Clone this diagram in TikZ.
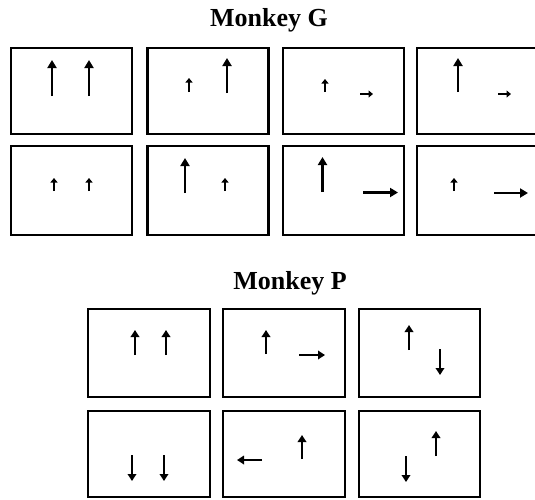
\documentclass[tikz,border=0pt]{standalone}
\usepackage{fontspec}
\setmainfont{Liberation Serif}
\usetikzlibrary{arrows.meta}
\tikzset{
  panel/.style={draw=black,line width=2.3pt,minimum width=121pt,inner sep=0pt},
  title-text/.style={anchor=base,font=\fontsize{26}{30}\selectfont\bfseries},
  % three arrow sizes: long (G), mid (P), short (G)
  arrow-long/.style={-{Triangle[length=8pt,width=9pt]},line width=2.5pt},
  arrow-mid/.style={-{Triangle[length=7pt,width=8.5pt]},line width=2.3pt},
  arrow-short/.style={-{Triangle[length=4.5pt,width=7pt]},line width=2.3pt},
}
\begin{document}
\begin{tikzpicture}[x=1pt,y=-1pt]
  \useasboundingbox (0,0) rectangle (535,499);
  \clip (0,0) rectangle (535,499);

  % Monkey G
  \node[title-text] (titleG) at (269,26.6) {Monkey G};
  \node[panel,minimum height=86pt] (g1) at (71.5,90.8) {};
  \node[panel,minimum height=86pt] (g2) at (208,90.8) {};
  \node[panel,minimum height=86pt] (g3) at (343.5,90.8) {};
  \node[panel,minimum height=86pt] (g4) at (477.5,90.8) {};
  \node[panel,minimum height=89pt] (g5) at (71.5,190.3) {};
  \node[panel,minimum height=89pt] (g6) at (208,190.3) {};
  \node[panel,minimum height=89pt] (g7) at (343.5,190.3) {};
  \node[panel,minimum height=89pt] (g8) at (477.5,190.3) {};

  \draw[arrow-long] (52,96) -- (52,60);
  \draw[arrow-long] (89,96) -- (89,60);
  \draw[arrow-short] (189,92) -- (189,78);
  \draw[arrow-long] (227,93) -- (227,58);
  \draw[arrow-short] (325,92) -- (325,79);
  \draw[arrow-short] (360,94) -- (373,94);
  \draw[arrow-long] (458,92) -- (458,58);
  \draw[arrow-short] (498,94) -- (511,94);

  \draw[arrow-short] (54,191) -- (54,178);
  \draw[arrow-short] (89,191) -- (89,178);
  \draw[arrow-long] (185,193) -- (185,158);
  \draw[arrow-short] (225,191) -- (225,178);
  \draw[arrow-long] (322.5,192) -- (322.5,157);
  \draw[arrow-long] (363,192.5) -- (398,192.5);
  \draw[arrow-short] (454,191) -- (454,178);
  \draw[arrow-long] (494,193) -- (528,193);

  % Monkey P
  \node[title-text] (titleP) at (290,289) {Monkey P};
  \node[panel,minimum width=122pt,minimum height=88pt] (p1) at (149,353) {};
  \node[panel,minimum width=122pt,minimum height=88pt] (p2) at (284,353) {};
  \node[panel,minimum height=88pt] (p3) at (419.5,353) {};
  \node[panel,minimum width=122pt,minimum height=86pt] (p4) at (149,454) {};
  \node[panel,minimum width=122pt,minimum height=86pt] (p5) at (284,454) {};
  \node[panel,minimum height=86pt] (p6) at (419.5,454) {};

  \draw[arrow-mid] (135,355) -- (135,330);
  \draw[arrow-mid] (166,355) -- (166,330);
  \draw[arrow-mid] (266,354) -- (266,330);
  \draw[arrow-mid] (299,355) -- (325,355);
  \draw[arrow-mid] (409,350) -- (409,325);
  \draw[arrow-mid] (440,349) -- (440,375);

  \draw[arrow-mid] (132,455) -- (132,481);
  \draw[arrow-mid] (164,455) -- (164,481);
  \draw[arrow-mid] (262,460) -- (237,460);
  \draw[arrow-mid] (302,459) -- (302,435);
  \draw[arrow-mid] (406,456) -- (406,482);
  \draw[arrow-mid] (436,456) -- (436,431);
\end{tikzpicture}
\end{document}
